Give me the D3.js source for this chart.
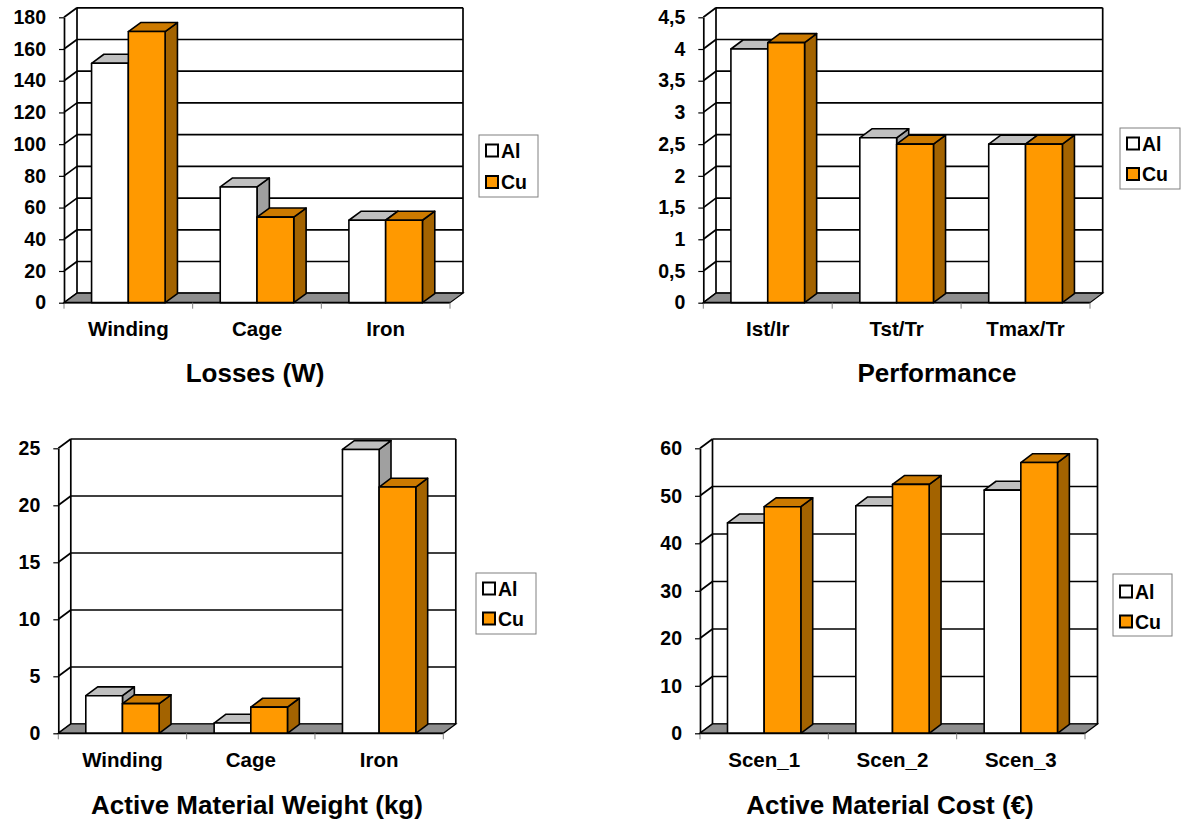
<!DOCTYPE html>
<html>
<head>
<meta charset="utf-8">
<script src="https://cdn.jsdelivr.net/npm/d3@7/dist/d3.min.js"></script>
<style>
  html, body { margin: 0; padding: 0; background: #ffffff; }
  svg { display: block; }
  text { font-family: Arial, "Liberation Sans", sans-serif; font-weight: bold; fill: #000; }
</style>
</head>
<body>
<svg id="chart" width="1182" height="820"></svg>
<script>
// ---- Data ----
const seriesNames = ["Al", "Cu"];

const lossCategories = ["Winding", "Cage", "Iron"];
const lossAl = [151, 73, 52];
const lossCu = [171, 54, 52];
const lossTicks = [0, 20, 40, 60, 80, 100, 120, 140, 160, 180];

const perfCategories = ["Ist/Ir", "Tst/Tr", "Tmax/Tr"];
const perfAl = [4.0, 2.6, 2.5];
const perfCu = [4.1, 2.5, 2.5];
const perfTicks = [0, 0.5, 1, 1.5, 2, 2.5, 3, 3.5, 4, 4.5];

const weightCategories = ["Winding", "Cage", "Iron"];
const weightAl = [3.3, 0.9, 24.9];
const weightCu = [2.6, 2.3, 21.6];
const weightTicks = [0, 5, 10, 15, 20, 25];

const costCategories = ["Scen_1", "Scen_2", "Scen_3"];
const costAl = [44.3, 47.9, 51.2];
const costCu = [47.7, 52.4, 57.0];
const costTicks = [0, 10, 20, 30, 40, 50, 60];

const titles = ["Losses (W)", "Performance", "Active Material Weight (kg)", "Active Material Cost (€)"];

// ---- Styling ----
const faceColors = {
  Al: { front: "#ffffff", top: "#c0c0c0", side: "#a0a0a0" },
  Cu: { front: "#ff9900", top: "#cc7a00", side: "#a36300" }
};
const floorColor = "#8e8e8e";
const commaFmt = v => String(v).replace(".", ",");

const svg = d3.select("#chart");

function drawPanel(cfg) {
  const g = svg.append("g");
  const { x0, x1, y0, yTop, dx, dy } = cfg;
  const maxTick = cfg.ticks[cfg.ticks.length - 1];

  const y = d3.scaleLinear().domain([0, maxTick]).range([y0, yTop]);
  const x = d3.scaleBand().domain(cfg.categories).range([x0, x1]);
  const xs = d3.scaleBand().domain(seriesNames).range([0, x.bandwidth()])
    .paddingInner(0).paddingOuter(0.75);

  // back wall grid lines and left wall diagonals
  const grid = g.append("g").attr("stroke", "#000").attr("stroke-width", 1.7).attr("fill", "none");
  cfg.ticks.forEach(t => {
    const yy = y(t);
    grid.append("line").attr("x1", x0 + dx).attr("x2", x1 + dx)
      .attr("y1", yy - dy).attr("y2", yy - dy);
    grid.append("line").attr("x1", x0).attr("x2", x0 + dx)
      .attr("y1", yy).attr("y2", yy - dy);
  });
  // back wall verticals
  grid.append("line").attr("x1", x0 + dx).attr("x2", x0 + dx)
    .attr("y1", yTop - dy).attr("y2", y0 - dy);
  grid.append("line").attr("x1", x1 + dx).attr("x2", x1 + dx)
    .attr("y1", yTop - dy).attr("y2", y0 - dy);

  // floor
  g.append("path")
    .attr("d", `M${x0},${y0}L${x1},${y0}L${x1 + dx},${y0 - dy}L${x0 + dx},${y0 - dy}Z`)
    .attr("fill", floorColor).attr("stroke", "#000").attr("stroke-width", 1.2);

  // bars
  const bdx = dx * 0.95, bdy = dy * 0.95;
  const rows = cfg.categories.map((c, i) => ({ c, Al: cfg.al[i], Cu: cfg.cu[i] }));
  rows.forEach(r => {
    seriesNames.forEach(s => {
      const left = x(r.c) + xs(s);
      const right = left + xs.bandwidth();
      const top = y(r[s]);
      const col = faceColors[s];
      const bar = g.append("g").attr("stroke", "#000").attr("stroke-width", 1.6)
        .attr("stroke-linejoin", "round");
      bar.append("path")
        .attr("d", `M${right},${y0}L${right + bdx},${y0 - bdy}L${right + bdx},${top - bdy}L${right},${top}Z`)
        .attr("fill", col.side);
      bar.append("path")
        .attr("d", `M${left},${top}L${left + bdx},${top - bdy}L${right + bdx},${top - bdy}L${right},${top}Z`)
        .attr("fill", col.top);
      bar.append("rect")
        .attr("x", left).attr("y", top)
        .attr("width", right - left).attr("height", y0 - top)
        .attr("fill", col.front);
    });
  });

  // front edge of floor
  g.append("line").attr("x1", x0).attr("x2", x1).attr("y1", y0).attr("y2", y0)
    .attr("stroke", "#000").attr("stroke-width", 1.7);

  // category boundary ticks
  const bounds = cfg.categories.map(c => x(c)).concat([x1]);
  g.append("g").selectAll("line").data(bounds).join("line")
    .attr("x1", d => d).attr("x2", d => d).attr("y1", y0).attr("y2", y0 + 6)
    .attr("stroke", "#808080").attr("stroke-width", 1);

  // value axis
  const axis = d3.axisLeft(y).tickValues(cfg.ticks).tickSize(5).tickSizeOuter(0)
    .tickPadding(13).tickFormat(cfg.fmt || (d => d));
  const ag = g.append("g").attr("transform", `translate(${x0},0)`).call(axis);
  ag.select(".domain").attr("stroke", "#000").attr("stroke-width", 1.7);
  ag.selectAll(".tick line").attr("stroke", "#000").attr("stroke-width", 1.2);
  ag.selectAll(".tick text").attr("font-size", 19.5).attr("font-weight", "bold")
    .attr("font-family", "Arial, 'Liberation Sans', sans-serif").attr("fill", "#000");

  // category labels
  g.append("g").selectAll("text").data(cfg.categories).join("text")
    .attr("x", c => x(c) + x.bandwidth() / 2).attr("y", cfg.labelY)
    .attr("text-anchor", "middle").attr("font-size", 20.5).text(c => c);

  // title
  g.append("text").attr("x", cfg.titleX).attr("y", cfg.titleY)
    .attr("text-anchor", "middle").attr("font-size", 26).text(cfg.title);

  // legend
  const L = cfg.legend;
  const lg = g.append("g");
  lg.append("rect").attr("x", L.x).attr("y", L.y).attr("width", L.w).attr("height", L.h)
    .attr("fill", "#fff").attr("stroke", "#808080").attr("stroke-width", 1);
  seriesNames.forEach((s, i) => {
    const cy = L.items[i];
    lg.append("rect").attr("x", L.x + 7).attr("y", cy - 6).attr("width", 12).attr("height", 12)
      .attr("fill", faceColors[s].front).attr("stroke", "#000").attr("stroke-width", 2);
    lg.append("text").attr("x", L.x + 22).attr("y", cy + 7).attr("font-size", 19.5).text(s);
  });
}

drawPanel({
  categories: lossCategories, al: lossAl, cu: lossCu, ticks: lossTicks,
  x0: 64, x1: 450, y0: 302.7, yTop: 17.3, dx: 13, dy: 9.5,
  labelY: 336, title: titles[0], titleX: 255, titleY: 382,
  legend: { x: 479, y: 135, w: 59, h: 62, items: [150.5, 182] }
});

drawPanel({
  categories: perfCategories, al: perfAl, cu: perfCu, ticks: perfTicks, fmt: commaFmt,
  x0: 703.3, x1: 1090, y0: 302.7, yTop: 17.3, dx: 12.7, dy: 9.5,
  labelY: 336, title: titles[1], titleX: 937, titleY: 382,
  legend: { x: 1120, y: 128, w: 60, h: 61, items: [143.5, 174] }
});

drawPanel({
  categories: weightCategories, al: weightAl, cu: weightCu, ticks: weightTicks,
  x0: 58.3, x1: 443.3, y0: 733.3, yTop: 448.3, dx: 12.5, dy: 9.3,
  labelY: 767, title: titles[2], titleX: 257, titleY: 814,
  legend: { x: 476, y: 573, w: 60, h: 61, items: [588.5, 618.5] }
});

drawPanel({
  categories: costCategories, al: costAl, cu: costCu, ticks: costTicks,
  x0: 700, x1: 1085, y0: 733.3, yTop: 448.3, dx: 12.5, dy: 9.3,
  labelY: 767, title: titles[3], titleX: 890, titleY: 814,
  legend: { x: 1113, y: 574, w: 59, h: 62, items: [591.5, 621.5] }
});
</script>
</body>
</html>
